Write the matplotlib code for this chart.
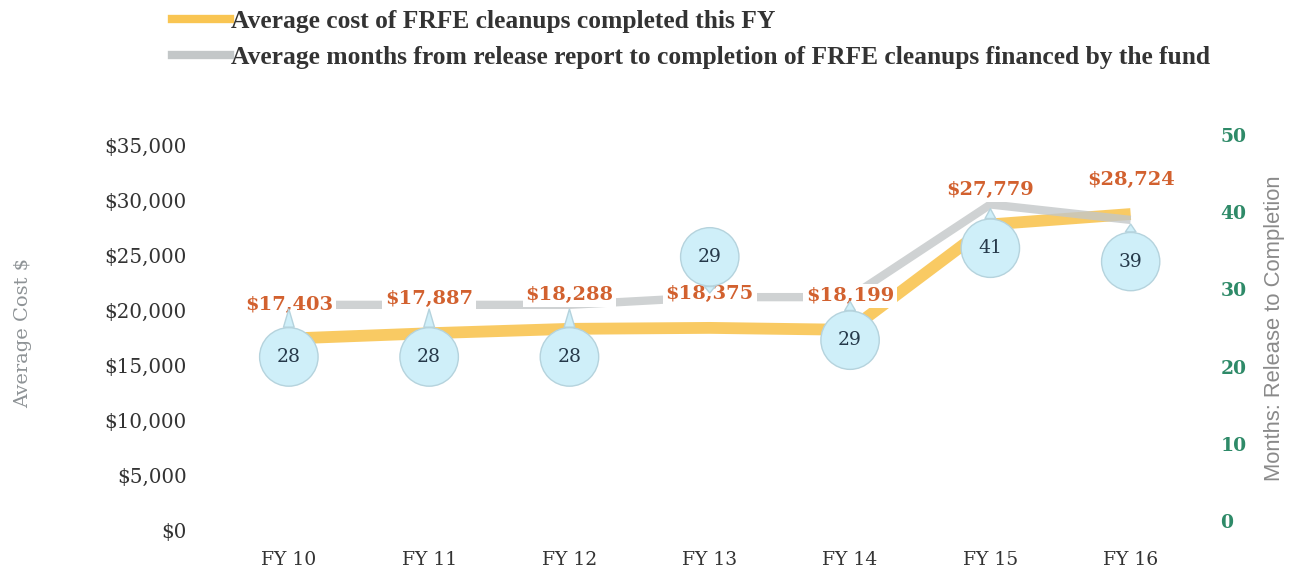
import matplotlib
matplotlib.use("Agg")
import matplotlib.pyplot as plt
from matplotlib.lines import Line2D

# Données
years = ["FY 10", "FY 11", "FY 12", "FY 13", "FY 14", "FY 15", "FY 16"]
avg_cost = [17403, 17887, 18288, 18375, 18199, 27779, 28724]
avg_months = [28, 28, 28, 29, 29, 41, 39]

cost_ticks = [0, 5000, 10000, 15000, 20000, 25000, 30000, 35000]
month_ticks = [0, 10, 20, 30, 40, 50]

YELLOW = "#F9C552"
GRAY = "#C3C7C8"
ORANGE = "#D2612F"
GREEN = "#2E8A68"
BUBBLE = "#CFEFF9"
SERIF = "DejaVu Serif"

fig = plt.figure(figsize=(12.94, 5.73), dpi=100)
ax = fig.add_axes([0.169, 0.075, 0.759, 0.6894])
ax2 = ax.twinx()

x = list(range(len(years)))

# Courbes
ax.plot(x, avg_cost, color=YELLOW, linewidth=8.5, solid_capstyle="butt", alpha=0.9)
ax2.plot(x, avg_months, color=GRAY, linewidth=6, solid_capstyle="butt", alpha=0.8)

ax.set_xticks(x)
ax.set_xticklabels(years, fontsize=13.5, fontfamily=SERIF, color="#333333")
ax.set_yticks(cost_ticks)
ax.set_yticklabels([f"${v:,}" for v in cost_ticks], fontsize=14.3, fontfamily=SERIF, color="#333333")
ax2.set_yticks(month_ticks)
ax2.set_yticklabels([str(v) for v in month_ticks], fontsize=13.5, fontfamily=SERIF,
                    fontweight="bold", color=GREEN)

# Limites après les ticks (set_yticks élargit la vue)
ax.set_xlim(-0.5, len(years) - 0.5)
ax.set_ylim(0, 35909)
ax2.set_ylim(-1.166, 50)

for a in (ax, ax2):
    for s in a.spines.values():
        s.set_visible(False)
    a.tick_params(length=0)
ax.tick_params(axis="y", pad=23)
ax.tick_params(axis="x", pad=15)
ax2.tick_params(axis="y", pad=14)

ax.set_ylabel("Average Cost $", fontsize=14, fontfamily=SERIF, color="#8E9396", labelpad=52)
ax2.set_ylabel("Months: Release to Completion", fontsize=15.8, fontfamily="Liberation Sans",
               color="#8A8A8A")
ax2.yaxis.set_label_coords(1.064, 0.51)

# Étiquettes des coûts
for i, c in enumerate(avg_cost):
    ax2.annotate(f"${c:,}", xy=(i, c), xycoords=ax.transData, xytext=(0, 24.5),
                 textcoords="offset points", ha="center", va="center",
                 fontsize=14, fontfamily=SERIF, fontweight="bold", color=ORANGE,
                 bbox=dict(boxstyle="square,pad=0.15", fc="white", ec="none"), zorder=5)

# Bulles des mois (décalage vertical en points)
bubble_dy = [-37.5, -37.5, -37.5, 29, -31, -31.5, -30]
for i, m in enumerate(avg_months):
    ax2.annotate(str(m), xy=(i, m), xytext=(0, bubble_dy[i]), textcoords="offset points",
                 ha="center", va="center", fontsize=13.5, fontfamily=SERIF, color="#26394A",
                 bbox=dict(boxstyle="circle,pad=0.92", fc=BUBBLE, ec="#B5D3DD", lw=1),
                 arrowprops=dict(arrowstyle="wedge,tail_width=0.55,shrink_factor=0.5",
                                 fc=BUBBLE, ec="#B5D3DD", lw=1, shrinkA=0, shrinkB=3,
                                 mutation_scale=14),
                 zorder=6)

# Légende
handles = [Line2D([], [], color=YELLOW, linewidth=6),
           Line2D([], [], color=GRAY, linewidth=6)]
labels = ["Average cost of FRFE cleanups completed this FY",
          "Average months from release report to completion of FRFE cleanups financed by the fund"]
fig.legend(handles, labels, loc="upper left", bbox_to_anchor=(0.133, 0.983),
           frameon=False, borderpad=0, borderaxespad=0, handlelength=2.25,
           handletextpad=0.06, labelspacing=0.52,
           prop=dict(family="Liberation Serif", weight="bold", size=18.4), labelcolor="#333333")

fig.savefig("out.png", dpi=100)
